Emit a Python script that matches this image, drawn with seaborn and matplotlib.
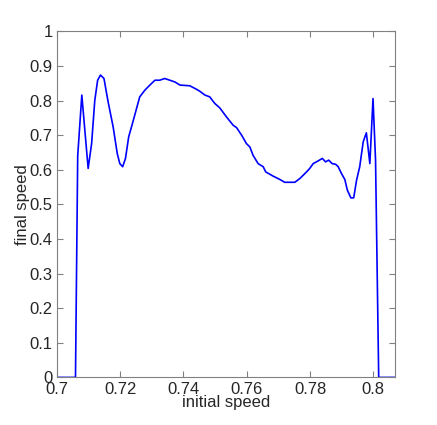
import seaborn as sns
import pandas as pd
import matplotlib.pyplot as plt

initial_speed = [
    0.7000, 0.7059, 0.7066, 0.7079, 0.7099, 0.7110, 0.7120, 0.7129, 0.7138, 0.7149,
    0.7162, 0.7178, 0.7191, 0.7199, 0.7208, 0.7217, 0.7227, 0.7239, 0.7262, 0.7278,
    0.7294, 0.7310, 0.7325, 0.7341, 0.7357, 0.7373, 0.7389, 0.7420, 0.7441, 0.7452,
    0.7468, 0.7483, 0.7499, 0.7515, 0.7536, 0.7557, 0.7568, 0.7584, 0.7599, 0.7610,
    0.7620, 0.7636, 0.7652, 0.7660, 0.7683, 0.7705, 0.7720, 0.7752, 0.7768, 0.7789,
    0.7799, 0.7810, 0.7826, 0.7839, 0.7849, 0.7859, 0.7870, 0.7881, 0.7889, 0.7899,
    0.7910, 0.7918, 0.7929, 0.7938, 0.7947, 0.7957, 0.7968, 0.7978, 0.7989, 0.7999,
    0.8007, 0.8017, 0.8070,
]
final_speed = [
    0.000, 0.000, 0.640, 0.816, 0.604, 0.676, 0.801, 0.859, 0.874, 0.864,
    0.797, 0.724, 0.647, 0.618, 0.609, 0.633, 0.695, 0.734, 0.811, 0.830,
    0.845, 0.859, 0.859, 0.864, 0.859, 0.854, 0.845, 0.843, 0.833, 0.827,
    0.816, 0.811, 0.792, 0.779, 0.753, 0.729, 0.722, 0.700, 0.676, 0.666,
    0.642, 0.618, 0.609, 0.594, 0.582, 0.572, 0.564, 0.564, 0.575, 0.594,
    0.604, 0.618, 0.626, 0.633, 0.623, 0.628, 0.618, 0.616, 0.609, 0.590,
    0.572, 0.541, 0.519, 0.519, 0.570, 0.609, 0.681, 0.707, 0.618, 0.806,
    0.628, 0.000, 0.000,
]

x_ticks = [0.7, 0.72, 0.74, 0.76, 0.78, 0.8]
x_tick_labels = ["0.7", "0.72", "0.74", "0.76", "0.78", "0.8"]
y_ticks = [0, 0.1, 0.2, 0.3, 0.4, 0.5, 0.6, 0.7, 0.8, 0.9, 1]
y_tick_labels = ["0", "0.1", "0.2", "0.3", "0.4", "0.5", "0.6", "0.7", "0.8", "0.9", "1"]

sns.set_style("white")
plt.rcParams['font.family'] = ['Liberation Sans', 'DejaVu Sans']

data = pd.DataFrame({"initial speed": initial_speed, "final speed": final_speed})

fig = plt.figure(figsize=(4.37, 4.25), dpi=100)
ax = fig.add_axes([0.13, 0.112, 0.775, 0.814])
sns.lineplot(data=data, x="initial speed", y="final speed", sort=False,
             estimator=None, color="#0000ff", linewidth=1.2, ax=ax)

ax.set_xlim(0.7, 0.807)
ax.set_ylim(0, 1)
ax.set_xticks(x_ticks)
ax.set_xticklabels(x_tick_labels)
ax.set_yticks(y_ticks)
ax.set_yticklabels(y_tick_labels)
ax.tick_params(direction="in", length=4, width=0.8, color="#808080",
               top=True, right=True, bottom=True, left=True,
               labelsize=12, pad=3)
for s in ax.spines.values():
    s.set_color("#808080")
    s.set_linewidth(0.8)
ax.set_xlabel("initial speed", fontsize=12, labelpad=-1)
ax.set_ylabel("final speed", fontsize=12, labelpad=-0.5)

fig.savefig("out.png", dpi=100)
